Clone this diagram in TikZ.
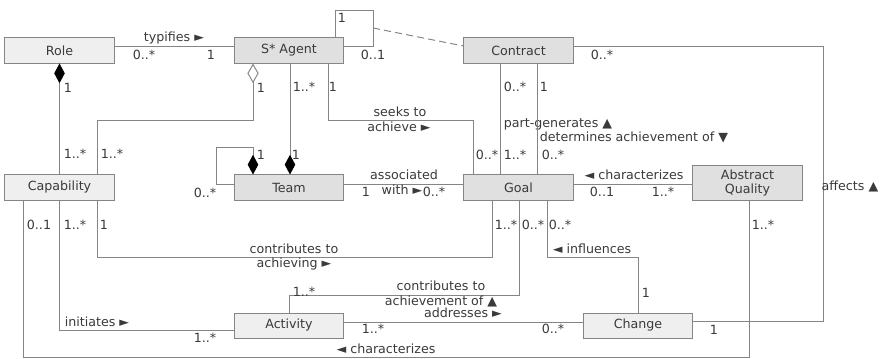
\documentclass[tikz,border=0pt]{standalone}
\usepackage{fontspec}
\setmainfont{DejaVu Sans}
\usetikzlibrary{arrows.meta}

\definecolor{umlline}{HTML}{858585}
\definecolor{umltext}{HTML}{3A3A3A}
\definecolor{classlight}{HTML}{EFEFEF}
\definecolor{classdark}{HTML}{E0E0E0}

\tikzset{
  classbox/.style={draw=umlline,fill=classlight,line width=0.7pt,
    minimum width=2.725cm,minimum height=0.625cm,inner sep=1pt,
    text=umltext,font=\fontsize{9}{10.6}\selectfont,align=center},
  darkbox/.style={classbox,fill=classdark},
  assoc/.style={draw=umlline,line width=0.7pt},
  comp/.style={assoc,-{Diamond[length=14pt,width=7.5pt,color=black]}},
  aggr/.style={assoc,-{Diamond[open,length=14pt,width=8pt,fill=white]}},
  multlabel/.style={text=umltext,font=\fontsize{9}{10.6}\selectfont,inner sep=0pt}
}
\newcommand{\umlclass}[4][]{\node[classbox,#1] at (#2) (#3) {#4}}
\newcommand{\mult}[3]{\node[multlabel] at (#1) (#2) {#3}}

\begin{document}
\begin{tikzpicture}[x=0.025cm,y=-0.025cm]
  \useasboundingbox (0,0) rectangle (884,359);

  \umlclass{59.5,50.5}{role}{Role};
  \umlclass[darkbox]{289,50.5}{agent}{S* Agent};
  \umlclass[darkbox]{518.5,50.5}{contract}{Contract};
  \umlclass{59.5,187.5}{capability}{Capability};
  \umlclass[darkbox]{289,187.5}{team}{Team};
  \umlclass[darkbox]{518.5,187.5}{goal}{Goal};
  \umlclass[darkbox,minimum height=0.875cm]{747.5,183}{quality}{Abstract\\Quality};
  \umlclass{289,325.5}{activity}{Activity};
  \umlclass{638,325.5}{change}{Change};

  % top row
  \draw[assoc] (role.east |- 0,46) -- (agent.west |- 0,46);
  \mult{174,38}{typifies}{typifies ►};
  \mult{144,55}{typifies-a}{0..*};
  \mult{211,55}{typifies-b}{1};

  \draw[assoc] (agent.east |- 0,46) -- (373,46) |- (335,10) -- (agent.north -| 335,0);
  \coordinate (agentloop) at (373,28);
  \draw[assoc,dash pattern=on 5pt off 3pt] (agentloop) -- (contract.west |- 0,46);
  \mult{342,18}{loop-a}{1};
  \mult{373,55}{loop-b}{0..1};

  \draw[assoc] (contract.east |- 0,46) -| (823,321) -- (change.east |- 0,321);
  \mult{602,55}{affects-a}{0..*};
  \mult{850,186}{affects}{affects ▲};
  \mult{714,330}{affects-b}{1};

  % role, agent, team
  \draw[comp] (capability.north) -- (role.south);
  \mult{68,88}{has-a}{1};
  \mult{75,154}{has-b}{1..*};

  \draw[aggr] (capability.north -| 97,0) |- (253,120) -- (agent.south -| 253,0);
  \mult{261,88}{owns-a}{1};
  \mult{112,154}{owns-b}{1..*};

  \draw[comp] (agent.south -| 290,0) -- (team.north -| 290,0);
  \mult{304,87}{member-a}{1..*};
  \mult{296,155}{member-b}{1};

  \draw[comp] (team.west |- 0,184) -- (216,184) |- (253,147) -- (team.north -| 253,0);
  \mult{261,155}{sub-a}{1};
  \mult{205,193}{sub-b}{0..*};

  \draw[assoc] (agent.south -| 328,0) |- (473,120) -- (goal.north -| 473,0);
  \mult{333,87}{seeks-a}{1};
  \mult{400,112}{seeks1}{seeks to};
  \mult{399,127}{seeks2}{achieve ►};
  \mult{487,155}{seeks-b}{0..*};

  % contract and goal
  \draw[assoc] (contract.south -| 500,0) -- (goal.north -| 500,0);
  \mult{515,87}{partgen-a}{0..*};
  \mult{515,155}{partgen-b}{1..*};
  \mult{558,124}{partgen}{part-generates ▲};

  \draw[assoc] (contract.south -| 537,0) -- (goal.north -| 537,0);
  \mult{544,87}{determ-a}{1};
  \mult{553,155}{determ-b}{0..*};
  \mult{634,137}{determ}{determines achievement of ▼};

  \draw[assoc] (team.east |- 0,184) -- (goal.west |- 0,184);
  \mult{404,175}{assoc1}{associated};
  \mult{402,190}{assoc2}{with ►};
  \mult{366,192}{assoc-a}{1};
  \mult{434,192}{assoc-b}{0..*};

  \draw[assoc] (goal.east |- 0,184) -- (quality.west |- 0,184);
  \mult{634,175}{charg}{◄ characterizes};
  \mult{602,192}{charg-a}{0..1};
  \mult{663,192}{charg-b}{1..*};

  % lower part
  \draw[assoc] (capability.south -| 97,0) |- (492,257) -- (goal.south -| 492,0);
  \mult{104,225}{contrib-a}{1};
  \mult{294,249}{contrib1}{contributes to};
  \mult{294,264}{contrib2}{achieving ►};
  \mult{506,225}{contrib-b}{1..*};

  \draw[assoc] (capability.south) |- (activity.west |- 0,330);
  \mult{75,225}{init-a}{1..*};
  \mult{97,322}{init}{initiates ►};
  \mult{205,338}{init-b}{1..*};

  \draw[assoc] (capability.south -| 23,0) |- (749,357) -- (quality.south -| 749,0);
  \mult{39,225}{charc-a}{0..1};
  \mult{386,349}{charc}{◄ characterizes};
  \mult{763,225}{charc-b}{1..*};

  \draw[assoc] (activity.north) |- (519,295) -- (goal.south -| 519,0);
  \mult{304,292}{achv-a}{1..*};
  \mult{441,286}{achv1}{contributes to};
  \mult{441,301}{achv2}{achievement of ▲};
  \mult{533,225}{achv-b}{0..*};

  \draw[assoc] (activity.east |- 0,322) -- (change.west |- 0,322);
  \mult{463,313}{addr}{addresses ►};
  \mult{373,329}{addr-a}{1..*};
  \mult{553,329}{addr-b}{0..*};

  \draw[assoc] (goal.south -| 547,0) |- (638,257) -- (change.north);
  \mult{560,225}{infl-a}{0..*};
  \mult{592,249}{infl}{◄ influences};
  \mult{646,293}{infl-b}{1};
\end{tikzpicture}
\end{document}
